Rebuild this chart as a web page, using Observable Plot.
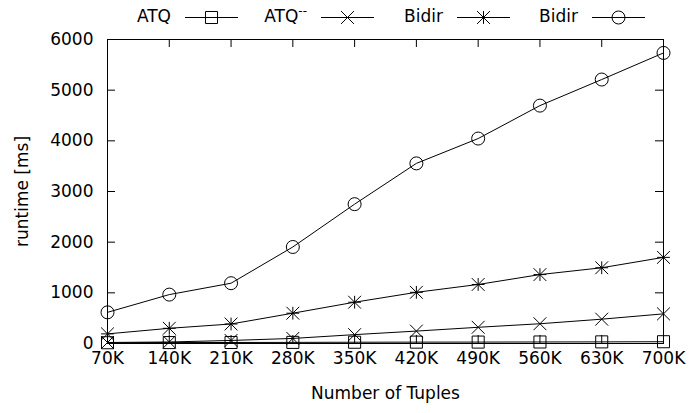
<!DOCTYPE html>
<html><head><meta charset="utf-8">
<script src="https://cdn.jsdelivr.net/npm/d3@7"></script>
<script src="https://cdn.jsdelivr.net/npm/@observablehq/plot@0.6"></script>
<style>
body{margin:0;background:#fff;font-family:"DejaVu Sans",sans-serif;color:#000;}
#legend{position:relative;width:692px;height:34px;font-size:17px;}
#legend .lt{position:absolute;top:6px;line-height:21px;white-space:nowrap;text-align:right;}
#legend svg{position:absolute;top:7px;}
#legend sup{font-size:12px;vertical-align:7px;line-height:0;}
</style></head><body>
<div id="legend"></div><div id="chart"></div>
<script>
const tuples = [70, 140, 210, 280, 350, 420, 490, 560, 630, 700];
const atq = [15, 18, 20, 22, 25, 27, 28, 30, 32, 35];
const atqMinus = [20, 30, 60, 100, 175, 245, 320, 390, 480, 585];
const bidirStar = [190, 300, 385, 598, 815, 1010, 1165, 1360, 1495, 1700];
const bidirCircle = [615, 965, 1190, 1905, 2750, 3555, 4045, 4695, 5210, 5735];
const yTicks = [0, 1000, 2000, 3000, 4000, 5000, 6000];
const seriesNames = ["ATQ", "ATQ--", "Bidir", "Bidir"];

const rows = vals => tuples.map((t, i) => ({t, v: vals[i]}));
const dA = rows(atq), dB = rows(atqMinus), dC = rows(bidirStar), dD = rows(bidirCircle);

// legend
const legend = document.getElementById("legend");
const textEnds = [171, 307, 443, 578];
const syms = [
  [[d3.symbolSquare, 6.8]],
  [[d3.symbolTimes, 5.9]],
  [[d3.symbolPlus, 4.2], [d3.symbolTimes, 5.9]],
  [[d3.symbolCircle, 6.5]]
];
seriesNames.forEach((name, i) => {
  const span = document.createElement("div");
  span.className = "lt";
  span.style.right = (692 - textEnds[i]) + "px";
  if (name === "ATQ--") span.innerHTML = "ATQ<sup>--</sup>";
  else span.textContent = name;
  legend.appendChild(span);
  const svg = d3.select(legend).append("svg")
    .attr("width", 54).attr("height", 20)
    .style("left", (textEnds[i] + 14) + "px");
  svg.append("line").attr("x1", 0).attr("x2", 53).attr("y1", 10.5).attr("y2", 10.5)
    .attr("stroke", "black").attr("stroke-width", 1);
  syms[i].forEach(([s, r]) => {
    svg.append("path").attr("d", d3.symbol(s, Math.PI * r * r)())
      .attr("transform", "translate(26.5,10.5)")
      .attr("fill", "none").attr("stroke", "black").attr("stroke-width", 1);
  });
});

const W = 692, H = 379, mT = 5, mB = 70, mL = 107, mR = 29;
const innerW = W - mL - mR, innerH = H - mT - mB, tickLen = 8;

const chart = Plot.plot({
  width: W, height: H,
  marginTop: mT, marginBottom: mB, marginLeft: mL, marginRight: mR,
  style: {fontFamily: "DejaVu Sans", fontSize: "17px", color: "black", background: "white", overflow: "visible"},
  x: {type: "linear", domain: [70, 700]},
  y: {domain: [0, 6000]},
  marks: [
    Plot.axisX({ticks: tuples, tickFormat: d => d + "K", tickSize: 0, tickPadding: 8, label: "Number of Tuples", labelAnchor: "center", labelOffset: 55, labelArrow: "none"}),
    Plot.axisY({ticks: yTicks, tickFormat: d3.format("d"), tickSize: 0, tickPadding: 14, label: "runtime [ms]", labelAnchor: "center", labelOffset: 92, labelArrow: "none"}),
    // inward mirrored ticks
    Plot.tickX(tuples, {x: d => d, insetTop: innerH - tickLen, stroke: "black"}),
    Plot.tickX(tuples, {x: d => d, insetBottom: innerH - tickLen, stroke: "black"}),
    Plot.tickY(yTicks, {y: d => d, insetRight: innerW - tickLen, stroke: "black"}),
    Plot.tickY(yTicks, {y: d => d, insetLeft: innerW - tickLen, stroke: "black"}),
    Plot.frame({stroke: "black"}),
    Plot.line(dA, {x: "t", y: "v", stroke: "black", strokeWidth: 1}),
    Plot.line(dB, {x: "t", y: "v", stroke: "black", strokeWidth: 1}),
    Plot.line(dC, {x: "t", y: "v", stroke: "black", strokeWidth: 1}),
    Plot.line(dD, {x: "t", y: "v", stroke: "black", strokeWidth: 1}),
    Plot.dot(dA, {x: "t", y: "v", symbol: "square", r: 6.8, stroke: "black", fill: "none", strokeWidth: 1}),
    Plot.dot(dB, {x: "t", y: "v", symbol: "times", r: 5.9, stroke: "black", fill: "none", strokeWidth: 1}),
    Plot.dot(dC, {x: "t", y: "v", symbol: "plus", r: 4.2, stroke: "black", fill: "none", strokeWidth: 1}),
    Plot.dot(dC, {x: "t", y: "v", symbol: "times", r: 5.9, stroke: "black", fill: "none", strokeWidth: 1}),
    Plot.dot(dD, {x: "t", y: "v", symbol: "circle", r: 6.5, stroke: "black", fill: "none", strokeWidth: 1})
  ]
});
document.getElementById("chart").appendChild(chart);
</script>
</body></html>
